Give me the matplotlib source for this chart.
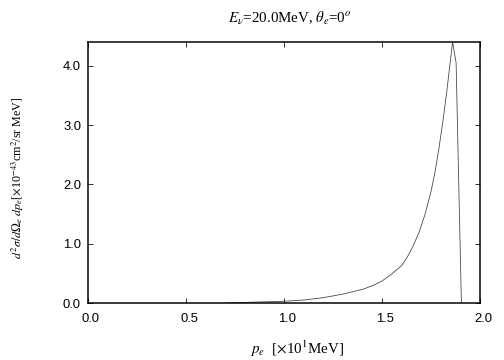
import matplotlib
matplotlib.use("Agg")
import matplotlib.pyplot as plt
import matplotlib.transforms as mtransforms
import numpy as np

plt.rcParams['mathtext.fontset'] = 'stix'
plt.rcParams['font.family'] = 'Liberation Sans'

# electron momentum [x10 MeV] and cross section [x10^-43 cm^2/sr MeV]
pe = np.array([0.70, 0.80, 0.90, 1.00, 1.10, 1.20, 1.30, 1.40, 1.45, 1.50, 1.55,
               1.60, 1.63, 1.66, 1.69, 1.72, 1.75, 1.77, 1.79, 1.81, 1.83,
               1.845, 1.86, 1.878, 1.905])
xsec = np.array([0.0, 0.01, 0.02, 0.03, 0.05, 0.09, 0.15, 0.23, 0.29, 0.37, 0.49,
                 0.63, 0.78, 0.97, 1.20, 1.50, 1.88, 2.20, 2.60, 3.05, 3.55,
                 3.98, 4.40, 4.05, 0.0])

xticks = [0.0, 0.5, 1.0, 1.5, 2.0]
yticks = [0.0, 1.0, 2.0, 3.0, 4.0]

fig = plt.figure(figsize=(7, 5), dpi=72)
ax = fig.add_axes([0.1746, 0.1583, 0.7778, 0.725])

ax.plot(pe, xsec, color='#444444', lw=0.8)

ax.set_xlim(0, 2.0)
ax.set_ylim(0, 4.4)
ax.set_xticks(xticks)
ax.set_yticks(yticks)
ax.set_xticklabels(['%.1f' % v for v in xticks])
ax.set_yticklabels(['%.1f' % v for v in yticks])
ax.tick_params(direction='in', length=5, width=0.8, top=True, right=True,
               labelsize=13)
ax.tick_params(axis='x', pad=10)
ax.tick_params(axis='y', pad=7)
for s in ax.spines.values():
    s.set_linewidth(1.5)

# x tick labels sit a few pixels right of their ticks
shift = mtransforms.ScaledTranslation(3 / 72, 0, fig.dpi_scale_trans)
for lab in ax.get_xticklabels():
    lab.set_transform(lab.get_transform() + shift)

fig.text(0.575, 0.95, r'$E_\nu$=20.0MeV, $\theta_e$=0$^o$',
         family='Liberation Serif', fontsize=15, ha='center', va='center')
fig.text(0.589, 0.03, r'$p_e$  [$\times$10$^1$MeV]',
         family='Liberation Serif', fontsize=15, ha='center', va='center')
fig.text(0.036, 0.505,
         r'$d^2\sigma/d\Omega_e\ dp_e$[$\times$10$^{-43}$cm$^2$/sr MeV]',
         family='Liberation Serif', fontsize=12, ha='center', va='center',
         rotation=90)

fig.savefig('out.png', dpi=72)
